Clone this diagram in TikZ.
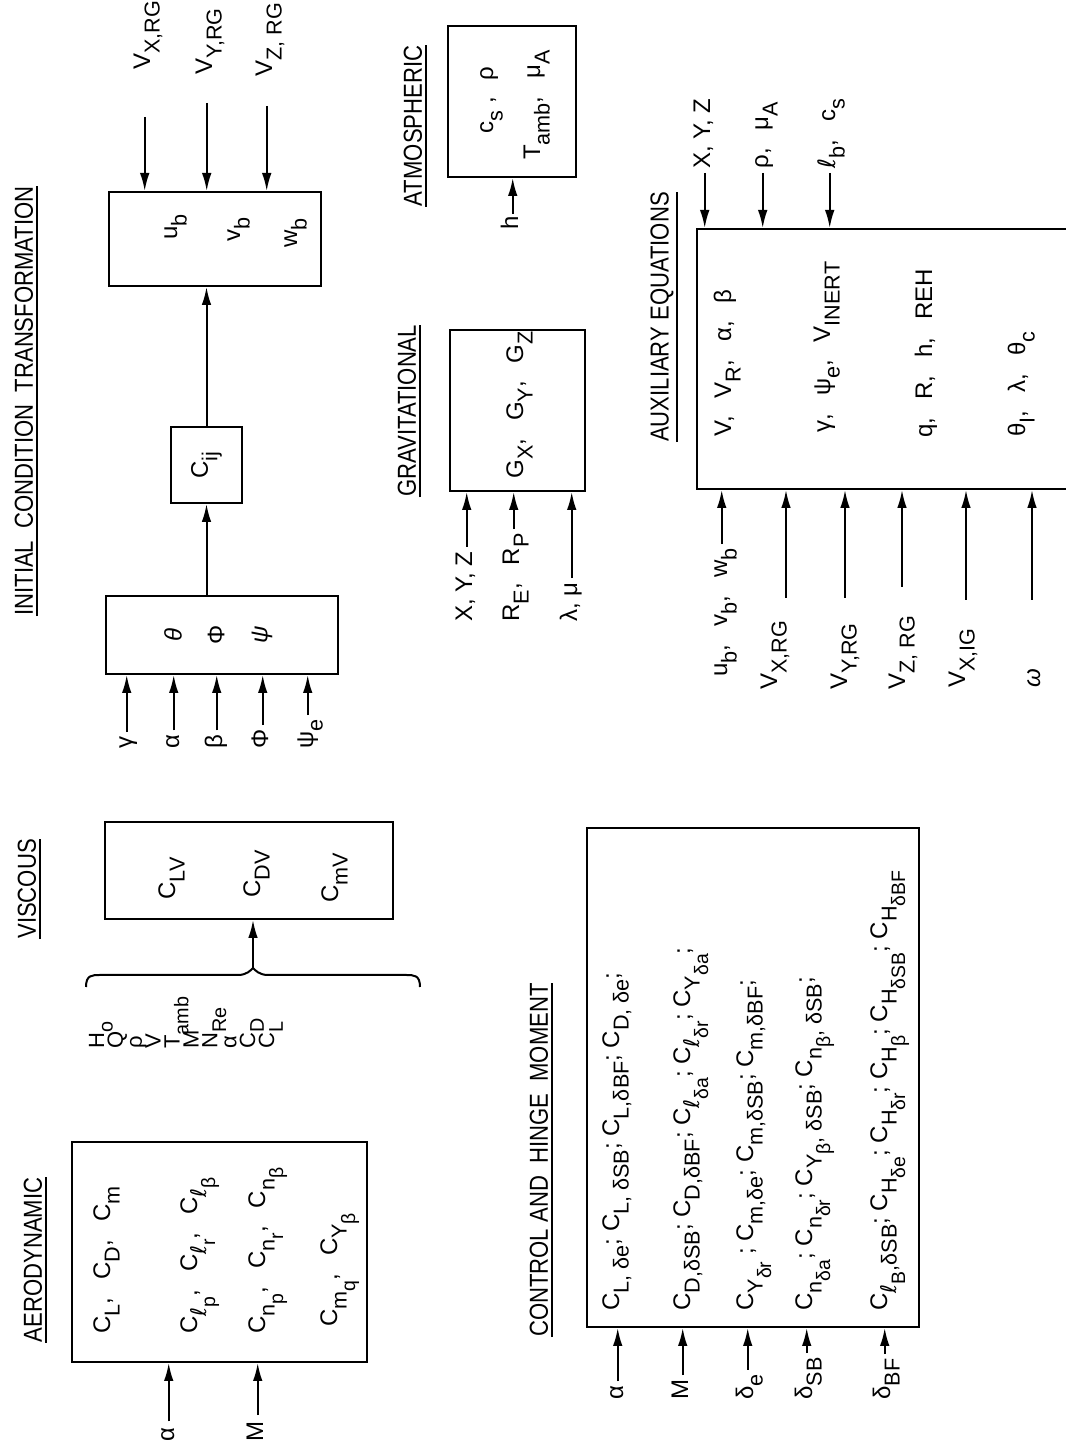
\documentclass[tikz,border=0pt]{standalone}
\usepackage{fontspec}
\usepackage{graphicx}
\setmainfont{Liberation Sans}
\newfontfamily\ttlfamily{Liberation Sans}[FakeStretch=0.85]
\newfontfamily\ellfamily{DejaVu Sans}
\usetikzlibrary{arrows.meta}
\newcommand\sbx[1]{\raisebox{-0.75ex}{\scalebox{0.9}{#1}}}
\newcommand\cma{,\hspace{0.75em}}
\newcommand\lsc{{\ellfamily ℓ}}
\tikzset{
  bx/.style={draw, rotate=90, line width=1pt, inner sep=0pt, font=\fontsize{12}{14}\selectfont},
  txt/.style={rotate=90, inner sep=0pt, font=\fontsize{12}{14}\selectfont},
  sml/.style={rotate=90, inner sep=0pt, font=\fontsize{11}{12}\selectfont},
  ttl/.style={rotate=90, inner xsep=0pt, inner ysep=1.5pt, font=\ttlfamily\fontsize{13}{15}\selectfont},
  ul/.style={line width=1pt},
  arr/.style={line width=1pt, -{Latex[length=9pt,width=4.8pt]}},
}
\begin{document}
\begin{tikzpicture}[x={(0pt,0.5pt)}, y={(0.5pt,0pt)}]
\useasboundingbox (0,0) rectangle (1447,1066);
\fill[white] (0,0) rectangle (1447,1066);
\clip (0,0) rectangle (1447,1066);

% ---------- AERODYNAMIC ----------
\node[ttl] (tAero) at (187,33) {AERODYNAMIC};
\draw[ul] (tAero.south west) -- (tAero.south east);
\node[bx, minimum width=110pt, minimum height=147.5pt] (aero) at (195,219.5) {};
\node[txt, anchor=base west] (ar1) at (113,110) {C\sbx{L}\cma C\sbx{D}\cma C\sbx{m}};
\node[txt, anchor=base west] (ar2) at (113,197) {C\sbx{\lsc\sbx{p}}\cma C\sbx{\lsc\sbx{r}}\cma C\sbx{\lsc\sbx{β}}};
\node[txt, anchor=base west] (ar3) at (113,265) {C\sbx{n\sbx{p}}\cma C\sbx{n\sbx{r}}\cma C\sbx{n\sbx{β}}};
\node[txt, anchor=base west] (ar4) at (120,337) {C\sbx{m\sbx{q}}\cma C\sbx{Y\sbx{β}}};
\node[txt, anchor=base west] (aA) at (5,174) {α};
\node[txt, anchor=base west] (aM) at (5,263) {M};
\draw[arr, shorten <=3pt] (aA.mid east) -- (aA.mid east |- aero.west);
\draw[arr, shorten <=3pt] (aM.mid east) -- (aM.mid east |- aero.west);

% ---------- VISCOUS ----------
\node[ttl] (tVisc) at (558,27) {VISCOUS};
\draw[ul] (tVisc.south west) -- (tVisc.south east);
\node[bx, minimum width=48.5pt, minimum height=144pt] (visc) at (576.5,249) {};
\node[txt, anchor=base west] (vc1) at (547,175) {C\sbx{LV}};
\node[txt, anchor=base west] (vc2) at (549,260) {C\sbx{DV}};
\node[txt, anchor=base west] (vc3) at (544,338) {C\sbx{mV}};
\foreach \t [count=\i from 0] in {H\sbx{o}, Q, ρ, V, T\sbx{amb}, M, N\sbx{Re}, α, C\sbx{D}, C\sbx{L}} {
  \node[sml, anchor=base west] (vl\i) at (398,{104+18.9*\i}) {\t};
}
\draw[line width=1pt] (460,86) .. controls (472,86) and (472,92) .. (472,100) -- (472,238)
  .. controls (472,247) and (477,251) .. (479,253) .. controls (477,255) and (472,259) .. (472,268)
  -- (472,406) .. controls (472,414) and (472,420) .. (460,420);
\coordinate (btip) at (479,253);
\draw[arr] (btip) -- (btip |- visc.west);

% ---------- INITIAL CONDITION TRANSFORMATION ----------
\node[ttl] (tIct) at (1046,24) {INITIAL\ \ CONDITION\ \ TRANSFORMATION};
\draw[ul] (tIct.south west) -- (tIct.south east);
\node[bx, minimum width=39pt, minimum height=116pt] (att) at (812,222) {};
\node[txt] (th) at (812,173) {\itshape θ};
\node[txt] (ph) at (812,216) {Φ};
\node[txt] (ps) at (812,262) {\itshape ψ};
\node[txt, anchor=base west] (iG) at (698,132) {γ};
\node[txt, anchor=base west] (iA) at (698,179) {α};
\node[txt, anchor=base west] (iB) at (698,222) {β};
\node[txt, anchor=base west] (iP) at (698,268) {Φ};
\node[txt, anchor=base west] (iE) at (698,313) {ψ\sbx{e}};
\foreach \n in {iG,iA,iB,iP,iE} \draw[arr, shorten <=2pt] (\n.mid east) -- (\n.mid east |- att.west);
\node[bx, minimum width=38pt, minimum height=35.5pt] (cij) at (982,206.5) {C\sbx{ij}};
\node[bx, minimum width=47pt, minimum height=106pt] (ub) at (1208,215) {};
\draw[arr] (cij.west |- att.east) -- (cij.west);
\draw[arr] (cij.east) -- (cij.east |- ub.west);
\node[txt, anchor=base west] (u1) at (1207,177) {u\sbx{b}};
\node[txt, anchor=base west] (u2) at (1205,240) {v\sbx{b}};
\node[txt, anchor=base west] (u3) at (1199,297) {w\sbx{b}};
\node[txt, anchor=base west] (rX) at (1377,150) {V\sbx{X,RG}};
\node[txt, anchor=base west] (rY) at (1372,212) {V\sbx{Y,RG}};
\node[txt, anchor=base west] (rZ) at (1370,272) {V\sbx{Z, RG}};
\draw[arr, shorten <=23.5pt] (rX.mid west) -- (rX.mid west |- ub.east);
\draw[arr, shorten <=14pt] (rY.mid west) -- (rY.mid west |- ub.east);
\draw[arr, shorten <=14.5pt] (rZ.mid west) -- (rZ.mid west |- ub.east);

% ---------- ATMOSPHERIC ----------
\node[ttl] (tAtm) at (1321,413) {ATMOSPHERIC};
\draw[ul] (tAtm.south west) -- (tAtm.south east);
\node[bx, minimum width=75.5pt, minimum height=64pt] (atm) at (1345.5,512) {};
\node[txt, anchor=base] (at1) at (1347,493) {c\sbx{s} ,\hspace{0.7em}ρ};
\node[txt, anchor=base] (at2) at (1342,540) {T\sbx{amb}\cma μ\sbx{A}};
\node[txt, anchor=base west] (hh) at (1217,518) {h};
\draw[arr, shorten <=1pt] (hh.mid east) -- (hh.mid east |- atm.west);

% ---------- GRAVITATIONAL ----------
\node[ttl] (tGrav) at (1036,407) {GRAVITATIONAL};
\draw[ul] (tGrav.south west) -- (tGrav.south east);
\node[bx, minimum width=80.5pt, minimum height=67.5pt] (grav) at (1036.5,517.5) {};
\node[txt, anchor=base] (g1) at (1042,523) {G\sbx{X}\cma G\sbx{Y}\cma G\sbx{Z}};
\node[txt, anchor=base west] (gX) at (825,472) {X,\ Y,\ Z};
\node[txt, anchor=base west] (gR) at (825,519) {R\sbx{E}\cma R\sbx{P}};
\node[txt, anchor=base west] (gL) at (825,577) {λ,\ μ};
\foreach \n in {gX,gR,gL} \draw[arr, shorten <=2pt] (\n.mid east) -- (\n.mid east |- grav.west);

% ---------- AUXILIARY EQUATIONS ----------
\node[ttl] (tAux) at (1130,662) {AUXILIARY EQUATIONS};
\draw[ul] (tAux.south west) -- (tAux.south east);
\node[bx, minimum width=130pt, minimum height=211.5pt] (aux) at (1088,908.5) {};
\node[txt, anchor=base west] (x1) at (1010,731) {V\cma V\sbx{R}\cma α\cma β};
\node[txt, anchor=base west] (x2) at (1014,830) {γ\cma ψ\sbx{e}\cma V\sbx{INERT}};
\node[txt, anchor=base west] (x3) at (1009,932) {q\cma R\cma h\cma REH};
\node[txt, anchor=base west] (x4) at (1010,1025) {θ\sbx{I}\cma λ\cma θ\sbx{c}};
\node[txt, anchor=base west] (yX) at (1278,710) {X,\ Y,\ Z};
\node[txt, anchor=base west] (yR) at (1278,768) {ρ\cma μ\sbx{A}};
\node[txt, anchor=base west] (yL) at (1278,835) {\lsc\sbx{b}\cma c\sbx{s}};
\foreach \n in {yX,yR,yL} \draw[arr, shorten <=2pt] (\n.mid west) -- (\n.mid west |- aux.east);
\node[txt, anchor=base west] (xu) at (770,727) {u\sbx{b}\cma v\sbx{b}\cma w\sbx{b}};
\node[txt, anchor=base west] (xVX) at (757,777) {V\sbx{X,RG}};
\node[txt, anchor=base west] (xVY) at (757,847) {V\sbx{Y,RG}};
\node[txt, anchor=base west] (xVZ) at (757,905) {V\sbx{Z, RG}};
\node[txt, anchor=base west] (xVI) at (759,965) {V\sbx{X,IG}};
\node[txt, anchor=base west] (xW) at (759,1040) {\itshape ω};
\draw[arr, shorten <=2pt] (xu.mid east) -- (xu.mid east |- aux.west);
\coordinate (c1) at (849,786);
\coordinate (c2) at (849,845);
\coordinate (c3) at (860,902);
\coordinate (c4) at (847,966);
\coordinate (c5) at (847,1032);
\foreach \c in {c1,c2,c3,c4,c5} \draw[arr] (\c) -- (\c |- aux.west);

% ---------- CONTROL AND HINGE MOMENT ----------
\node[ttl] (tCtl) at (287,539) {CONTROL AND\ \ HINGE\ \ MOMENT};
\draw[ul] (tCtl.south west) -- (tCtl.south east);
\node[bx, minimum width=249.5pt, minimum height=166pt] (ctl) at (369.5,753) {};
\node[txt, anchor=base west] (k1) at (136,619) {C\sbx{L, δe}; C\sbx{L, δSB}; C\sbx{L,δBF}; C\sbx{D, δe};};
\node[txt, anchor=base west] (k2) at (136,690) {C\sbx{D,δSB}; C\sbx{D,δBF}; C\sbx{\lsc\sbx{δa}}; C\sbx{\lsc\sbx{δr}}; C\sbx{Y\sbx{δa}};};
\node[txt, anchor=base west] (k3) at (136,753) {C\sbx{Y\sbx{δr}} ; C\sbx{m,δe}; C\sbx{m,δSB}; C\sbx{m,δBF};};
\node[txt, anchor=base west] (k4) at (136,812) {C\sbx{n\sbx{δa}}; C\sbx{n\sbx{δr}}; C\sbx{Y\sbx{β}, δSB}; C\sbx{n\sbx{β}, δSB};};
\node[txt, anchor=base west] (k5) at (136,887) {C\sbx{\lsc\sbx{B},δSB}; C\sbx{H\sbx{δe}}; C\sbx{H\sbx{δr}}; C\sbx{H\sbx{β}}; C\sbx{H\sbx{δSB}}; C\sbx{H\sbx{δBF}}};
\node[txt, anchor=base west] (lA) at (47,623) {α};
\node[txt, anchor=base west] (lM) at (47,688) {M};
\node[txt, anchor=base west] (lE) at (47,753) {δ\sbx{e}};
\node[txt, anchor=base west] (lS) at (47,812) {δ\sbx{SB}};
\node[txt, anchor=base west] (lB) at (47,890) {δ\sbx{BF}};
\foreach \n in {lA,lM,lE,lS,lB} \draw[arr, shorten <=2pt] (\n.mid east) -- (\n.mid east |- ctl.west);
\end{tikzpicture}
\end{document}
